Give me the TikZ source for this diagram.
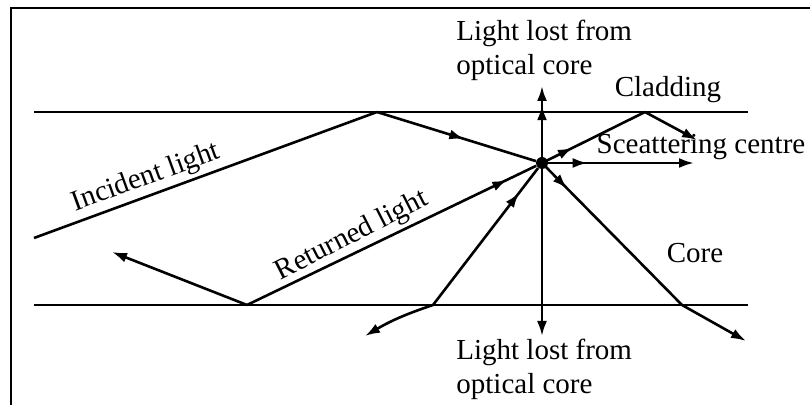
\documentclass[tikz,border=0pt]{standalone}
\usepackage{fontspec}
\setmainfont{Liberation Serif}
\usepackage{tikz}
\usetikzlibrary{arrows.meta,decorations.markings}

\tikzset{
  ray/.style={line width=1.3pt},
  tip/.style={-{Latex[length=7.5pt,width=5pt]}},
  midtip/.style={postaction={decorate},decoration={markings,
      mark=at position #1 with {\arrow{Latex[length=7.5pt,width=5pt]}}}},
  lbl/.style={font=\fontsize{14.5}{17}\selectfont, inner sep=0pt}
}

\begin{document}
\begin{tikzpicture}[x=0.5pt, y=-0.5pt]
  \useasboundingbox (0,0) rectangle (810,405);
  % frame
  \draw[line width=1.2pt] (11,405) -- (11,8) -- (810,8);
  % core boundaries
  \draw[ray] (34,112) -- (748,112);
  \draw[ray] (34,305) -- (748,305);
  % scattering centre and reflection points
  \node[circle, fill, inner sep=0pt, minimum size=6pt] (sc) at (542,163) {};
  \coordinate (inS) at (34,238);
  \coordinate (topR) at (377,112);
  \coordinate (botR) at (247,305);
  \coordinate (botB) at (433,305);
  \coordinate (upR) at (645,112);
  \coordinate (dnR) at (682,305);
  \coordinate (upEnd) at (542,86);
  \coordinate (dnEnd) at (542,336);
  \coordinate (hEnd) at (694,163);
  \coordinate (retEnd) at (112,252);
  \coordinate (lowEnd) at (365,336);
  \coordinate (upREnd) at (697,140);
  \coordinate (dnREnd) at (746,341);
  % incident light
  \draw[ray] (inS) -- (topR);
  \draw[ray, midtip=0.55] (topR) -- (sc);
  % light lost from core
  \draw[ray, tip, midtip=0.75] (sc.center) -- (upEnd);
  \draw[ray, tip] (sc.center) -- (dnEnd);
  % forward scattering
  \draw[ray, tip, midtip=0.3] (sc.center) -- (hEnd);
  \draw[ray, midtip=0.3] (sc.center) -- (upR);
  \draw[ray, tip] (upR) -- (upREnd);
  \draw[ray, midtip=0.18] (sc.center) -- (dnR);
  \draw[ray, tip] (dnR) -- (dnREnd);
  % returned light
  \draw[ray, midtip=0.9] (botR) -- (sc);
  \draw[ray, tip] (botR) -- (retEnd);
  \draw[ray, midtip=0.82] (botB) -- (sc);
  \draw[ray, tip] (botB) to[bend right=6] (lowEnd);
  % labels
  \node[lbl, anchor=west, align=left] (lostT) at (456,50) {Light lost from\\optical core};
  \node[lbl, anchor=west, align=left] (lostB) at (456,369) {Light lost from\\optical core};
  \node[lbl] (clad) at (668,90) {Cladding};
  \node[lbl] (scat) at (701,147) {Sceattering centre};
  \node[lbl] (core) at (695,253) {Core};
  \node[lbl, rotate=20] (inc) at (146,178) {Incident light};
  \node[lbl, rotate=27] (ret) at (352,236) {Returned light};
\end{tikzpicture}
\end{document}
